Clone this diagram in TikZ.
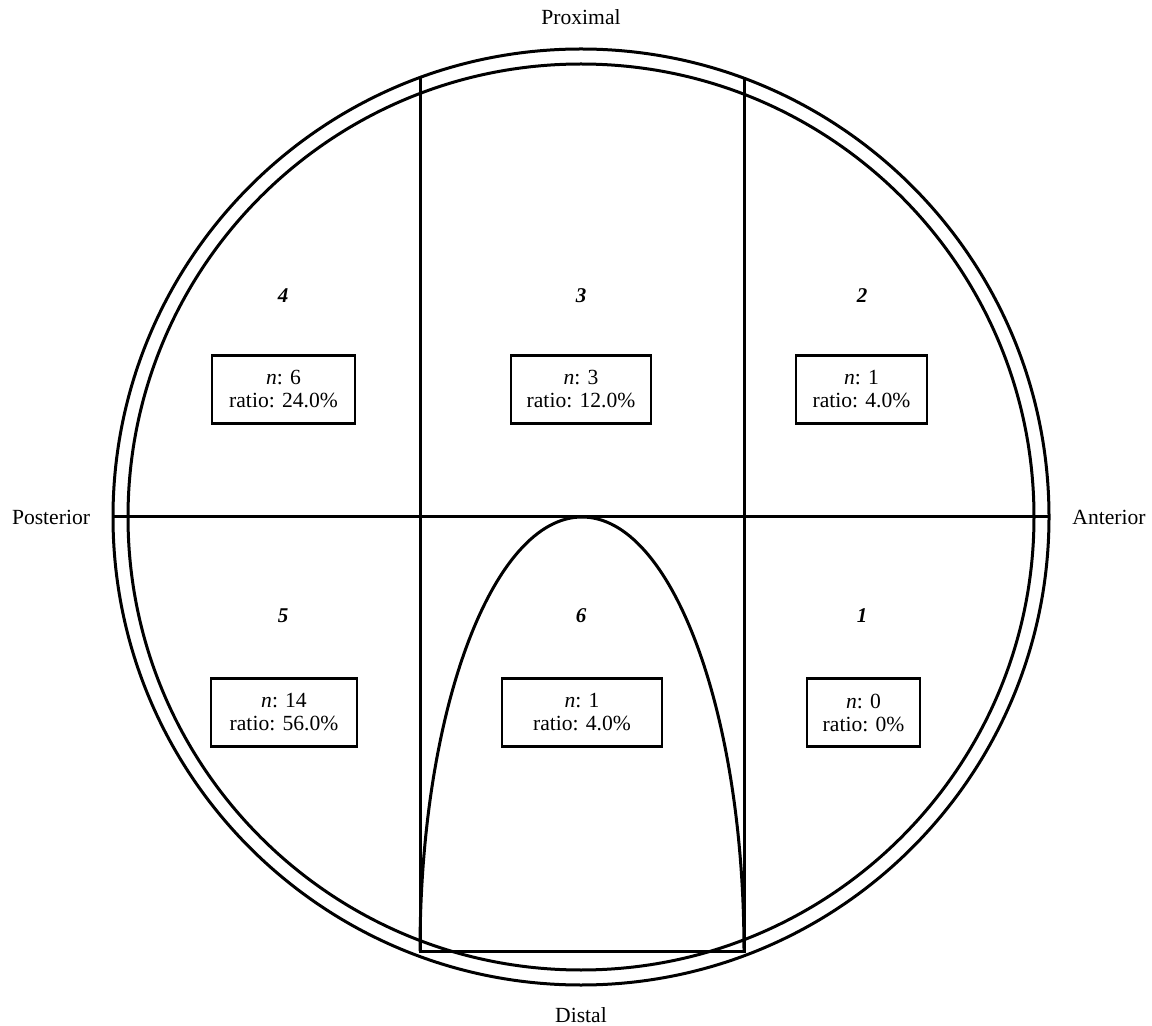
\documentclass[tikz,border=0pt]{standalone}
\usepackage{fontspec}
\setmainfont{Liberation Serif}
\usetikzlibrary{positioning}

\begin{document}
\begin{tikzpicture}[x=0.5pt, y=-0.5pt, line width=1.5pt,
    every node/.style={font=\fontsize{10.8}{11.5}\selectfont},
    zonebox/.style={rectangle, draw, line width=1.2pt, align=center, minimum height=34pt, inner sep=0pt},
    zonenum/.style={font=\fontsize{10.5}{11}\selectfont\bfseries\itshape}]
    \useasboundingbox (0,0) rectangle (1152,1026);

    % Rings
    \coordinate (c) at (581,517);
    \draw (c) circle[radius=468];
    \draw (c) circle[radius=453];

    % Grid
    \coordinate (w) at (113,517);
    \coordinate (e) at (1049,517);
    \coordinate (tl) at (420,77);
    \coordinate (tr) at (744,77);
    \coordinate (bl) at (420,951);
    \coordinate (br) at (744,951);
    \draw (w) -- (e);
    \draw (tl) -- (bl) -- (br) -- (tr);
    \draw (bl) arc[start angle=180, end angle=360, x radius=162, y radius=434];

    % Directions
    \node (prox) at (581,17) {Proximal};
    \node (dist) at (581,1015) {Distal};
    \node (post) at (51,517) {Posterior};
    \node (ant) at (1109,517) {Anterior};

    % Zones
    \node[zonenum] (z4) at (283,296) {4};
    \node[zonenum] (z3) at (581,296) {3};
    \node[zonenum] (z2) at (862,296) {2};
    \node[zonenum] (z5) at (283,616) {5};
    \node[zonenum] (z6) at (581,616) {6};
    \node[zonenum] (z1) at (862,616) {1};

    \node[zonebox, minimum width=71.5pt] (b4) at (283.5,389.5) {\textit{n}: 6\\ratio: 24.0\%};
    \node[zonebox, minimum width=70pt] (b3) at (581,389.5) {\textit{n}: 3\\ratio: 12.0\%};
    \node[zonebox, minimum width=65.5pt] (b2) at (861.5,389.5) {\textit{n}: 1\\ratio: 4.0\%};
    \node[zonebox, minimum width=73pt] (b5) at (284,712.5) {\textit{n}: 14\\ratio: 56.0\%};
    \node[zonebox, minimum width=80pt] (b6) at (582,712.5) {\textit{n}: 1\\ratio: 4.0\%};
    \node[zonebox, minimum width=56.5pt] (b1) at (863.5,712.5) {\textit{n}: 0\\ratio: 0\%};
\end{tikzpicture}
\end{document}
